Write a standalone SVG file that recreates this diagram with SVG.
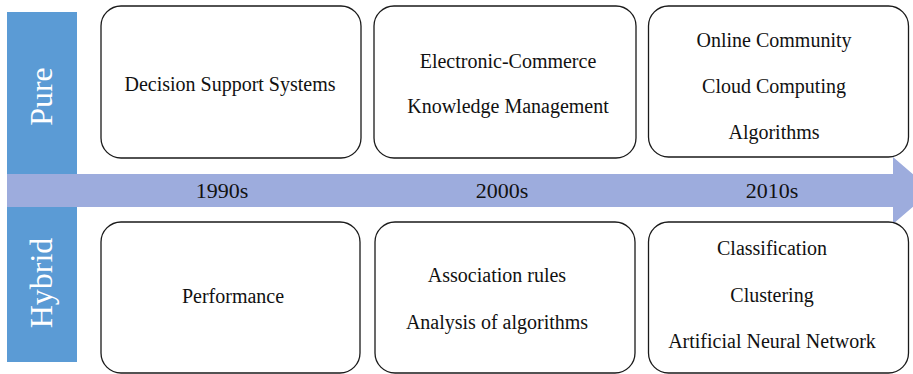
<svg xmlns="http://www.w3.org/2000/svg" width="913" height="374" viewBox="0 0 913 374">
  <style>
    .box { fill: #ffffff; stroke: #1a1a1a; stroke-width: 1.3; }
    .lbl { font-family: "Liberation Serif", "Times New Roman", serif; font-size: 20px; fill: #111111; text-anchor: middle; }
    .era { font-family: "Liberation Serif", "Times New Roman", serif; font-size: 22px; fill: #111111; text-anchor: middle; }
    .side { font-family: "Liberation Serif", "Times New Roman", serif; font-size: 32px; fill: #ffffff; text-anchor: middle; }
    .bar { fill: #5b9bd5; }
  </style>
  <rect width="913" height="374" fill="#ffffff"/>

  <!-- category bar on the left -->
  <g id="category-bar">
    <rect class="bar" x="7" y="12" width="70" height="350"/>
    <text class="side" transform="translate(52 96.5) rotate(-90)" x="0" y="0">Pure</text>
    <text class="side" transform="translate(52 283) rotate(-90)" x="0" y="0">Hybrid</text>
  </g>

  <!-- timeline arrow -->
  <g id="connectors">
    <path id="timeline" d="M7 174 H893 V157 L932 190.5 L893 224 V207 H7 Z" fill="#9dacdd"/>
    <text class="era" x="222" y="198">1990s</text>
    <text class="era" x="502" y="198">2000s</text>
    <text class="era" x="772" y="198">2010s</text>
  </g>

  <!-- upper row: pure -->
  <g id="pure-1990s">
    <rect class="box" x="101" y="6" width="260" height="152" rx="20"/>
    <text class="lbl" x="230" y="91">Decision Support Systems</text>
  </g>
  <g id="pure-2000s">
    <rect class="box" x="374" y="6" width="262" height="152" rx="20"/>
    <text class="lbl" x="508" y="68">Electronic-Commerce</text>
    <text class="lbl" x="508" y="113">Knowledge Management</text>
  </g>
  <g id="pure-2010s">
    <rect class="box" x="648.5" y="6" width="260" height="151" rx="20"/>
    <text class="lbl" x="774" y="46.5">Online Community</text>
    <text class="lbl" x="774" y="92.5">Cloud Computing</text>
    <text class="lbl" x="774" y="138.5">Algorithms</text>
  </g>

  <!-- lower row: hybrid -->
  <g id="hybrid-1990s">
    <rect class="box" x="101" y="222" width="259" height="151" rx="20"/>
    <text class="lbl" x="233" y="303">Performance</text>
  </g>
  <g id="hybrid-2000s">
    <rect class="box" x="375" y="222" width="260" height="151" rx="20"/>
    <text class="lbl" x="497" y="281.5">Association rules</text>
    <text class="lbl" x="497" y="329">Analysis of algorithms</text>
  </g>
  <g id="hybrid-2010s">
    <rect class="box" x="648.5" y="222" width="260" height="151" rx="20"/>
    <text class="lbl" x="772" y="255">Classification</text>
    <text class="lbl" x="772" y="301.5">Clustering</text>
    <text class="lbl" x="772" y="348">Artificial Neural Network</text>
  </g>
</svg>
